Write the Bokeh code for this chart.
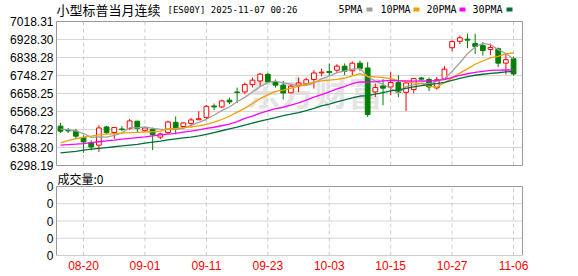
import numpy as np
import pandas as pd
from bokeh.plotting import figure
from bokeh.models import ColumnDataSource, Range1d, FixedTicker, Label
from bokeh.embed import file_html
from bokeh.resources import INLINE

# ---------------- data ----------------
dates = ["08-15", "08-18", "08-19", "08-20", "08-21", "08-22", "08-25", "08-26", "08-27", "08-28",
         "08-29", "09-01", "09-02", "09-03", "09-04", "09-05", "09-08", "09-09", "09-10", "09-11",
         "09-12", "09-15", "09-16", "09-17", "09-18", "09-19", "09-22", "09-23", "09-24", "09-25",
         "09-26", "09-29", "09-30", "10-01", "10-02", "10-03", "10-06", "10-07", "10-08", "10-09",
         "10-10", "10-13", "10-14", "10-15", "10-16", "10-17", "10-20", "10-21", "10-22", "10-23",
         "10-24", "10-27", "10-28", "10-29", "10-30", "10-31", "11-03", "11-04", "11-05", "11-06"]
opens = [6495, 6473, 6470, 6438, 6413, 6400, 6491, 6463, 6481, 6483,
         6520, 6474, 6480, 6440, 6463, 6514, 6493, 6509, 6527, 6538,
         6596, 6591, 6625, 6666, 6666, 6703, 6721, 6754, 6716, 6700,
         6662, 6700, 6706, 6728, 6761, 6768, 6775, 6795, 6772, 6810,
         6786, 6666, 6696, 6691, 6713, 6664, 6678, 6736, 6728, 6686,
         6733, 6887, 6919, 6930, 6908, 6898, 6878, 6882, 6810, 6832]
highs = [6511, 6486, 6481, 6449, 6424, 6499, 6496, 6490, 6495, 6531,
         6520, 6488, 6488, 6462, 6523, 6544, 6514, 6536, 6569, 6600,
         6608, 6628, 6638, 6688, 6713, 6738, 6761, 6761, 6728, 6721,
         6705, 6738, 6738, 6775, 6783, 6808, 6805, 6808, 6818, 6823,
         6815, 6708, 6730, 6765, 6750, 6716, 6736, 6741, 6738, 6741,
         6795, 6925, 6948, 6957, 6957, 6915, 6908, 6888, 6857, 6843]
lows = [6461, 6461, 6431, 6362, 6374, 6366, 6455, 6431, 6471, 6476,
        6461, 6467, 6375, 6430, 6458, 6454, 6486, 6488, 6525, 6530,
        6575, 6585, 6605, 6610, 6655, 6688, 6696, 6712, 6688, 6628,
        6660, 6665, 6696, 6683, 6745, 6748, 6760, 6750, 6750, 6770,
        6541, 6641, 6600, 6650, 6640, 6571, 6660, 6725, 6670, 6678,
        6728, 6870, 6905, 6885, 6856, 6848, 6850, 6790, 6753, 6748]
closes = [6470, 6471, 6445, 6416, 6391, 6486, 6463, 6488, 6478, 6521,
          6483, 6486, 6452, 6456, 6516, 6483, 6511, 6526, 6532, 6594,
          6591, 6621, 6616, 6663, 6703, 6725, 6755, 6716, 6700, 6661,
          6695, 6711, 6727, 6761, 6765, 6763, 6795, 6770, 6810, 6783,
          6553, 6688, 6685, 6713, 6664, 6711, 6733, 6730, 6691, 6727,
          6780, 6918, 6937, 6925, 6893, 6873, 6888, 6810, 6827, 6756]
volumes = [0] * 60

# moving-average values before a full window exists
ma5_head = [6480, 6478, 6472, 6458]
ma10_head = [6411, 6422, 6432, 6440, 6445, 6451, 6455, 6458, 6460]
ma20_head = [6400, 6403, 6405, 6408, 6413, 6417, 6421, 6425, 6430, 6434,
             6438, 6441, 6446, 6451, 6455, 6459, 6465, 6470, 6476]
ma30_head = [6361, 6365, 6369, 6375, 6380, 6384, 6388, 6392, 6396, 6400,
             6404, 6410, 6415, 6420, 6426, 6431, 6436, 6440, 6446, 6454,
             6463, 6472, 6481, 6490, 6500, 6510, 6520, 6529, 6538]

price_ticks = [6298.19, 6388.20, 6478.22, 6568.23, 6658.25, 6748.27, 6838.28, 6928.30, 7018.31]
price_tick_labels = ["6298.19", "6388.20", "6478.22", "6568.23", "6658.25",
                     "6748.27", "6838.28", "6928.30", "7018.31"]
date_ticks = ["08-20", "09-01", "09-11", "09-23", "10-03", "10-15", "10-27", "11-06"]
vol_tick_labels = ["0", "0", "0", "0", "0"]
title_cn = "小型标普当月连续"
title_code = "[ES00Y] 2025-11-07 00:26"
vol_title = "成交量:0"
ma_names = ["5PMA", "10PMA", "20PMA", "30PMA"]
watermark = "东方财富"

# ---------------- layout constants (page pixels) ----------------
RED = "#ff0000"
GREEN = "#008000"
MA_COLORS = ["#a0a0a0", "#f0a000", "#ff00ff", "#00703a"]
BOX_C = "#999999"
GRID_C = "#d6d6d6"
DASH_C = "#cccccc"
W, H = 578, 276
FL, FR, FB = 54, 524, 255            # plotting frame: x 54..524, y 0..255
BOX_L, BOX_R = 56, 522               # visible panel boxes
CANDLE0, STEP = 60.0, 7.679          # pixel of candle 0 and candle spacing
MAIN_TOP, MAIN_BOT = 21, 165         # main panel box, page y
VOL_TOP, VOL_BOT = 186, 255          # volume panel box, page y
PPX = (price_ticks[-1] - price_ticks[0]) / (MAIN_BOT - MAIN_TOP)
PTOP = price_ticks[-1] + MAIN_TOP * PPX


def xd(px):
    return (px - CANDLE0) / STEP


def yd(py):
    return PTOP - py * PPX


def ma(head, n):
    vals = pd.Series(closes, dtype=float).rolling(n).mean().to_numpy()
    vals[:len(head)] = head
    return vals


nvol = len(vol_tick_labels)
vol_pos = [yd(VOL_BOT - k * (VOL_BOT - VOL_TOP) / (nvol - 1)) for k in range(nvol)]
X0, X1 = xd(BOX_L), xd(BOX_R)

idx = np.arange(len(dates))
o = np.array(opens, float)
c = np.array(closes, float)
up = c >= o
src = ColumnDataSource(dict(
    x=idx, high=highs, low=lows,
    top=np.maximum(o, c), bottom=np.minimum(o, c),
    color=[RED if u else GREEN for u in up],
    fill=["#ffffff" if u else GREEN for u in up],
))

p = figure(width=W, height=H, x_range=Range1d(xd(FL), xd(FR)), y_range=Range1d(yd(FB), yd(0)),
           output_backend="svg", toolbar_location=None,
           min_border_left=FL, min_border_right=W - FR, min_border_top=0, min_border_bottom=H - FB)
p.background_fill_color = "white"
p.border_fill_color = "white"
p.outline_line_color = None
p.grid.visible = False

# ---------------- axes ----------------
date_idx = [dates.index(d) for d in date_ticks]
xa = p.xaxis[0]
xa.ticker = FixedTicker(ticks=date_idx)
xa.major_label_overrides = {int(i): d for i, d in zip(date_idx, date_ticks)}
xa.major_tick_out = 0
xa.major_tick_in = 0
xa.minor_tick_out = 0
xa.minor_tick_in = 0
xa.axis_line_color = None
xa.major_label_standoff = 5
xa.major_label_text_font = "Liberation Sans"
xa.major_label_text_font_size = "12px"
xa.major_label_text_color = RED

ya = p.yaxis[0]
ya.ticker = FixedTicker(ticks=list(price_ticks) + vol_pos)
overrides = {float(t): s for t, s in zip(price_ticks, price_tick_labels)}
overrides.update({float(t): s for t, s in zip(vol_pos, vol_tick_labels)})
ya.major_label_overrides = overrides
ya.major_tick_out = 0
ya.major_tick_in = 0
ya.minor_tick_out = 0
ya.minor_tick_in = 0
ya.axis_line_color = None
ya.major_label_standoff = 1
ya.major_label_text_font = "Liberation Sans"
ya.major_label_text_font_size = "12px"
ya.major_label_text_color = "#000000"

# ---------------- grids & panel boxes ----------------
inner_h = list(price_ticks[1:-1]) + vol_pos[1:-1]
p.segment(x0=[X0] * len(inner_h), x1=[X1] * len(inner_h), y0=inner_h, y1=inner_h,
          line_color=GRID_C, line_width=1)
p.segment(x0=date_idx, x1=date_idx, y0=[price_ticks[0]] * len(date_idx), y1=[price_ticks[-1]] * len(date_idx),
          line_color=DASH_C, line_width=1, line_dash="4 3")
p.segment(x0=date_idx, x1=date_idx, y0=[vol_pos[0]] * len(date_idx), y1=[vol_pos[-1]] * len(date_idx),
          line_color=DASH_C, line_width=1, line_dash="4 3")
p.quad(left=[X0, X0], right=[X1, X1], bottom=[price_ticks[0], vol_pos[0]], top=[price_ticks[-1], vol_pos[-1]],
       fill_color=None, line_color=BOX_C, line_width=1)

p.add_layout(Label(x=xd(246), y=yd(91), text=watermark, text_font="Noto Sans CJK SC",
                   text_font_size="34px", text_font_style="bold", text_color="#e4e4e4",
                   text_baseline="middle", text_align="left", level="underlay"))

# ---------------- candles & moving averages ----------------
p.segment(x0="x", y0="low", x1="x", y1="high", color="color", line_width=1, source=src)
p.vbar(x="x", width=0.62, top="top", bottom="bottom", fill_color="fill",
       line_color="color", line_width=1, source=src)
for n, head, col in zip([5, 10, 20, 30], [ma5_head, ma10_head, ma20_head, ma30_head], MA_COLORS):
    p.line(idx, ma(head, n), line_color=col, line_width=1.3)

# volume bars (all zero)
p.vbar(x=idx, width=0.62, bottom=vol_pos[0],
       top=[vol_pos[0] + vv * (vol_pos[1] - vol_pos[0]) for vv in volumes],
       fill_color=GREEN, line_color=None)

# ---------------- texts ----------------
p.add_layout(Label(x=xd(56), y=yd(9), text=title_cn, text_font="Noto Sans CJK SC",
                   text_font_size="13px", text_color="#000000",
                   text_baseline="middle", text_align="left"))
p.add_layout(Label(x=xd(167), y=yd(9.5), text=title_code, text_font="DejaVu Sans Mono",
                   text_font_size="9px", text_color="#000000",
                   text_baseline="middle", text_align="left"))
leg_text_px = [338, 380, 426, 472]
leg_sw_px = [369, 416, 462, 509]
for name, tx, sx, col in zip(ma_names, leg_text_px, leg_sw_px, MA_COLORS):
    p.add_layout(Label(x=xd(tx), y=yd(9), text=name, text_font="DejaVu Sans Mono",
                       text_font_size="10px", text_color="#000000",
                       text_baseline="middle", text_align="left"))
    p.rect(x=[xd(sx)], y=[yd(9)], width=6, height=4, width_units="screen", height_units="screen",
           fill_color=col, line_color=None)
p.add_layout(Label(x=xd(57), y=yd(178), text=vol_title, text_font="Noto Sans CJK SC",
                   text_font_size="12px", text_color="#000000",
                   text_baseline="middle", text_align="left"))

open("out.html", "w").write(file_html(p, INLINE))
